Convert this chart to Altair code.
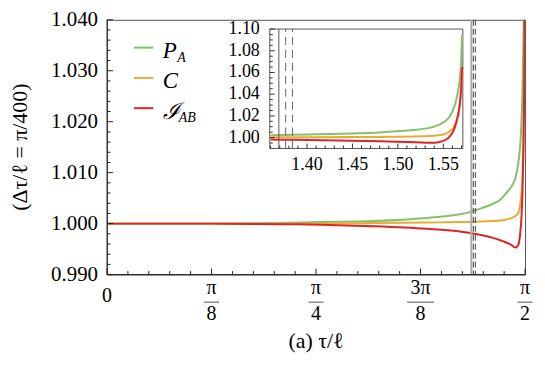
import math
import altair as alt
import pandas as pd

PI = math.pi

# ---------------- data ----------------
tau = [0.0, 0.40, 0.64, 0.80, 1.00, 1.20, 1.32, 1.36, 1.37, 1.40,
       1.45, 1.48, 1.50, 1.52, 1.535, 1.545, 1.552, 1.557, 1.561, 1.564,
       1.566, 1.568, 1.5695, 1.5707]
p_a = [1.0000, 1.0000, 1.0001, 1.0003, 1.0005, 1.0011, 1.0018, 1.0022, 1.0024, 1.0029,
       1.0039, 1.0048, 1.0060, 1.0073, 1.0090, 1.0117, 1.0150, 1.0195, 1.0260, 1.0340,
       1.0420, 1.0530, 1.0680, 1.0950]
c_vals = [1.0000, 1.0000, 1.0000, 1.0000, 1.0001, 1.0002, 1.0003, 1.0003, 1.0003, 1.0004,
          1.0005, 1.0006, 1.0008, 1.0011, 1.0015, 1.0021, 1.0035, 1.0058, 1.0090, 1.0140,
          1.0200, 1.0300, 1.0430, 1.0630]
i_ab = [1.0000, 1.0000, 0.9999, 0.9998, 0.9995, 0.9990, 0.9985, 0.9982, 0.9981, 0.9978,
        0.9972, 0.9967, 0.9963, 0.9958, 0.9953, 0.9958, 0.9978, 1.0010, 1.0060, 1.0130,
        1.0200, 1.0300, 1.0440, 1.0650]

series_names = ["P_A", "C", "I_AB"]
series_letters = ["P", "C", "ℐ"]
series_subs = ["A", "", "AB"]
series_colors = ["#86c06c", "#e8ab33", "#e02424"]

main_x_domain = [0.0, PI / 2]
main_y_domain = [0.990, 1.040]
main_y_ticks = [0.990, 1.000, 1.010, 1.020, 1.030, 1.040]
x_tick_values = [0.0, PI / 8, PI / 4, 3 * PI / 8, PI / 2]
x_tick_num = ["0", "π", "π", "3π", "π"]
x_tick_den = ["", "8", "4", "8", "2"]
x_title = "(a)  τ/ℓ"
y_title = "(Δτ/ℓ  =  π/400)"

inset_x_domain = [1.359, 1.5715]
inset_y_domain = [0.990, 1.100]
inset_x_ticks = [1.40, 1.45, 1.50, 1.55]
inset_y_ticks = [1.00, 1.02, 1.04, 1.06, 1.08, 1.10]

marker_solid = [1.369]
marker_dashed = [1.3765, 1.384]

# ---------------- layout / style ----------------
W, H = 420, 256
TOP = 11
IX0, IX1, IY0, IY1 = 163.5, 357.5, 9.3, 129.3
FONT = "Liberation Serif, DejaVu Serif, serif"

rows = []
for name, vals in zip(series_names, [p_a, c_vals, i_ab]):
    for t, v in zip(tau, vals):
        rows.append({"tau": t, "val": v, "series": name})
df = pd.DataFrame(rows)

mxs = alt.Scale(domain=main_x_domain, nice=False, zero=False)
mys = alt.Scale(domain=main_y_domain, nice=False, zero=False)
ixs = alt.Scale(domain=inset_x_domain, range=[IX0, IX1], nice=False, zero=False)
iys = alt.Scale(domain=inset_y_domain, range=[IY1, IY0], nice=False, zero=False)

one = pd.DataFrame({"a": [0]})

main_layers = []
for name, col in zip(series_names, series_colors):
    main_layers.append(
        alt.Chart(df[df.series == name]).mark_line(color=col, strokeWidth=2, clip=True,
                                                    interpolate="monotone").encode(
            x=alt.X("tau:Q", scale=mxs, axis=None),
            y=alt.Y("val:Q", scale=mys, axis=None),
        )
    )

vdf_s = pd.DataFrame({"pos": marker_solid})
vdf_d = pd.DataFrame({"pos": marker_dashed})
main_layers.append(alt.Chart(vdf_s).mark_rule(color="#aaaaaa", strokeWidth=2).encode(
    x=alt.X("pos:Q", scale=mxs, axis=None)))
main_layers.append(alt.Chart(vdf_d).mark_rule(color="#444444", strokeWidth=1,
                                              strokeDash=[6, 3]).encode(
    x=alt.X("pos:Q", scale=mxs, axis=None)))

# axis lines (left / bottom darker than the frame)
main_layers.append(alt.Chart(one).mark_rule(color="#222", strokeWidth=1).encode(
    x=alt.value(0), y=alt.value(0), y2=alt.value(H)))
main_layers.append(alt.Chart(one).mark_rule(color="#222", strokeWidth=1).encode(
    x=alt.value(0), x2=alt.value(W), y=alt.value(H)))

# inward ticks of the main frame
xt_major = pd.DataFrame({"v": x_tick_values})
xt_minor = pd.DataFrame({"v": [k * PI / 40 for k in range(21) if k % 5 != 0]})
yt_major = pd.DataFrame({"v": main_y_ticks, "lab": [f"{v:.3f}" for v in main_y_ticks]})
yt_minor = pd.DataFrame({"v": [round(0.990 + 0.002 * k, 4) for k in range(26) if k % 5 != 0]})
for d, ln in [(xt_major, 6), (xt_minor, 3.5)]:
    main_layers.append(alt.Chart(d).mark_rule(color="#222", strokeWidth=1).encode(
        x=alt.X("v:Q", scale=mxs, axis=None), y=alt.value(H), y2=alt.value(H - ln)))
for d, ln in [(yt_major, 6), (yt_minor, 3.5)]:
    main_layers.append(alt.Chart(d).mark_rule(color="#222", strokeWidth=1).encode(
        y=alt.Y("v:Q", scale=mys, axis=None), x=alt.value(0), x2=alt.value(ln)))

# y tick labels
main_layers.append(alt.Chart(yt_major).mark_text(font=FONT, fontSize=21, align="right",
                                                 baseline="middle", color="black").encode(
    y=alt.Y("v:Q", scale=mys, axis=None), x=alt.value(-9), text="lab:N"))

# fraction tick labels
frac = pd.DataFrame({"v": x_tick_values[1:], "num": x_tick_num[1:], "den": x_tick_den[1:]})
frac["bw"] = [15 if len(n) == 1 else 27 for n in frac["num"]]
main_layers.append(alt.Chart(frac).mark_text(font=FONT, fontSize=20, baseline="middle",
                                             color="black").encode(
    x=alt.X("v:Q", scale=mxs, axis=None), y=alt.value(H + 13.5), text="num:N"))
main_layers.append(alt.Chart(frac).mark_text(font=FONT, fontSize=20, baseline="middle",
                                             color="black").encode(
    x=alt.X("v:Q", scale=mxs, axis=None), y=alt.value(H + 40), text="den:N"))
main_layers.append(alt.Chart(frac).mark_tick(orient="horizontal", thickness=1,
                                             color="black").encode(
    x=alt.X("v:Q", scale=mxs, axis=None), y=alt.value(H + 27.7),
    size=alt.Size("bw:Q", scale=None, legend=None)))
zero_df = pd.DataFrame({"v": x_tick_values[:1], "num": x_tick_num[:1]})
main_layers.append(alt.Chart(zero_df).mark_text(font=FONT, fontSize=20, baseline="middle",
                                                color="black").encode(
    x=alt.X("v:Q", scale=mxs, axis=None), y=alt.value(H + 21.7), text="num:N"))

# axis titles
main_layers.append(alt.Chart(one).mark_text(text=x_title, font=FONT, fontSize=22,
                                            baseline="middle", align="center",
                                            color="black").encode(
    x=alt.value(W / 2), y=alt.value(H + 67)))
main_layers.append(alt.Chart(one).mark_text(text=y_title, font=FONT, fontSize=22, angle=270,
                                            baseline="middle", align="center",
                                            color="black").encode(
    x=alt.value(-87.5), y=alt.value(H / 2)))

# legend (drawn by hand for the sub-scripts)
sub_dx = [14.5, 0, 16]
for i, (col, let, sub) in enumerate(zip(series_colors, series_letters, series_subs)):
    yy = 28 + 30.4 * i
    main_layers.append(alt.Chart(one).mark_rule(color=col, strokeWidth=2).encode(
        x=alt.value(27), x2=alt.value(46.5), y=alt.value(yy)))
    main_layers.append(alt.Chart(one).mark_text(
        text=let, font=FONT, fontSize=23, fontStyle="italic", align="left",
        baseline="alphabetic", color="black").encode(x=alt.value(56), y=alt.value(yy + 10.5)))
    if sub:
        main_layers.append(alt.Chart(one).mark_text(
            text=sub, font=FONT, fontSize=14, fontStyle="italic", align="left",
            baseline="alphabetic", color="black").encode(
            x=alt.value(56 + sub_dx[i]), y=alt.value(yy + 14)))

main_group = alt.layer(*main_layers)

# ---------------- inset ----------------
frame = pd.DataFrame({"x0": [inset_x_domain[0]], "x1": [inset_x_domain[1]],
                      "y0": [inset_y_domain[0]], "y1": [inset_y_domain[1]]})
inset_layers = [alt.Chart(frame).mark_rect(fill="white", stroke="#555", strokeWidth=1).encode(
    x=alt.X("x0:Q", scale=ixs, axis=None), x2="x1:Q",
    y=alt.Y("y0:Q", scale=iys, axis=None), y2="y1:Q")]

dfi = df[df.tau >= inset_x_domain[0]]
for name, col in zip(series_names, series_colors):
    inset_layers.append(
        alt.Chart(dfi[dfi.series == name]).mark_line(color=col, strokeWidth=2,
                                                      interpolate="monotone").encode(
            x=alt.X("tau:Q", scale=ixs, axis=None),
            y=alt.Y("val:Q", scale=iys, axis=None)))

ivs = pd.DataFrame({"pos": marker_solid, "y0": inset_y_domain[0], "y1": inset_y_domain[1]})
ivd = pd.DataFrame({"pos": marker_dashed, "y0": inset_y_domain[0], "y1": inset_y_domain[1]})
inset_layers.append(alt.Chart(ivs).mark_rule(color="#555", strokeWidth=1).encode(
    x=alt.X("pos:Q", scale=ixs, axis=None), y=alt.Y("y0:Q", scale=iys, axis=None), y2="y1:Q"))
inset_layers.append(alt.Chart(ivd).mark_rule(color="#666", strokeWidth=1,
                                             strokeDash=[8, 5]).encode(
    x=alt.X("pos:Q", scale=ixs, axis=None), y=alt.Y("y0:Q", scale=iys, axis=None), y2="y1:Q"))

ixt_major = pd.DataFrame({"v": inset_x_ticks, "lab": [f"{v:.2f}" for v in inset_x_ticks]})
ixt_minor = pd.DataFrame({"v": [round(1.36 + 0.01 * k, 3) for k in range(22)
                                if round(1.36 + 0.01 * k, 3) not in inset_x_ticks]})
iyt_major = pd.DataFrame({"v": inset_y_ticks, "lab": [f"{v:.2f}" for v in inset_y_ticks]})
iyt_minor = pd.DataFrame({"v": [round(0.995 + 0.005 * k, 4) for k in range(22)
                                if round(0.995 + 0.005 * k, 4) not in inset_y_ticks]})
for d, ln in [(ixt_major, 5), (ixt_minor, 3)]:
    inset_layers.append(alt.Chart(d).mark_rule(color="#333", strokeWidth=1).encode(
        x=alt.X("v:Q", scale=ixs, axis=None), y=alt.value(IY1), y2=alt.value(IY1 - ln)))
for d, ln in [(iyt_major, 5), (iyt_minor, 3)]:
    inset_layers.append(alt.Chart(d).mark_rule(color="#333", strokeWidth=1).encode(
        y=alt.Y("v:Q", scale=iys, axis=None), x=alt.value(IX0), x2=alt.value(IX0 + ln)))

inset_layers.append(alt.Chart(ixt_major).mark_text(font=FONT, fontSize=18, baseline="middle",
                                                   align="center", color="black").encode(
    x=alt.X("v:Q", scale=ixs, axis=None), y=alt.value(IY1 + 17), text="lab:N"))
inset_layers.append(alt.Chart(iyt_major).mark_text(font=FONT, fontSize=18, baseline="middle",
                                                   align="right", color="black").encode(
    y=alt.Y("v:Q", scale=iys, axis=None), x=alt.value(IX0 - 10), text="lab:N"))

inset_group = alt.layer(*inset_layers)

chart = alt.layer(main_group, inset_group).resolve_scale(
    x="independent", y="independent"
).properties(
    width=W, height=H,
    padding={"left": 99.5, "top": TOP, "right": 12, "bottom": 90},
    autosize=alt.AutoSizeParams(type="none"),
    background="white",
).configure_view(stroke="#555", strokeWidth=1)

chart.save("out.html", embed_options={"renderer": "svg", "actions": False})
